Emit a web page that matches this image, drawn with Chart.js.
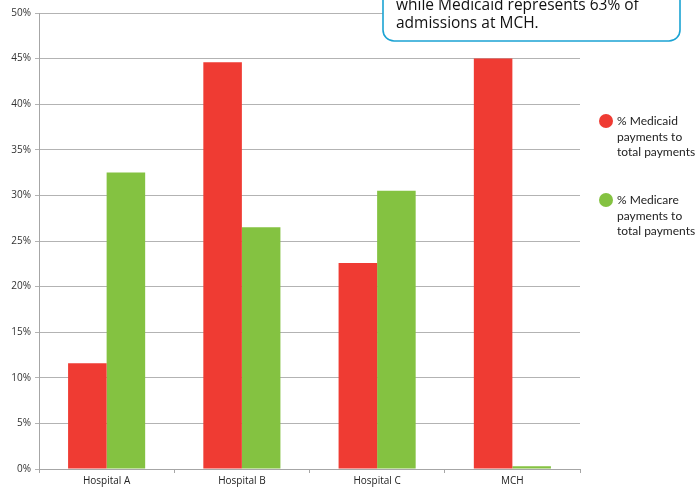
<!DOCTYPE html>
<html lang="en">
<head>
    <meta charset="UTF-8">
    <title>Medicaid / Medicare payments</title>
    <script src="https://cdn.jsdelivr.net/npm/chart.js"></script>
    <style>
        html, body { margin: 0; padding: 0; background: #fff; }
        #wrap { width: 696px; height: 489px; position: relative; }
    </style>
</head>
<body>
    <div id="wrap"><canvas id="grafico" width="696" height="489"></canvas></div>

    <script>
        // Data
        const hospitals = ['Hospital A', 'Hospital B', 'Hospital C', 'MCH'];
        const medicaidPct = [11.6, 44.6, 22.6, 45.0];   // % Medicaid payments to total payments
        const medicarePct = [32.5, 26.5, 30.5, 0.3];    // % Medicare payments to total payments
        const seriesNames = [
            ['% Medicaid', 'payments to', 'total payments'],
            ['% Medicare', 'payments to', 'total payments']
        ];
        const calloutLines = ['while Medicaid represents 63% of', 'admissions at MCH.'];

        const RED = '#ef3b33';
        const GREEN = '#84c241';

        // Legend on the right, drawn by hand (multi-line labels)
        const sideLegend = {
            id: 'sideLegend',
            afterDraw(chart) {
                const ctx = chart.ctx;
                ctx.save();
                ctx.font = '12px Lato, sans-serif';
                ctx.textBaseline = 'middle';
                chart.data.datasets.forEach((ds, i) => {
                    const y0 = 121 + i * 79;
                    ctx.beginPath();
                    ctx.arc(606, y0, 7, 0, Math.PI * 2);
                    ctx.fillStyle = ds.backgroundColor;
                    ctx.fill();
                    ctx.fillStyle = '#222';
                    ds.label.forEach((line, j) => {
                        ctx.fillText(line, 617, y0 + j * 15.7);
                    });
                });
                ctx.restore();
            }
        };

        // Callout box at the top (cut by the top edge)
        const callout = {
            id: 'callout',
            afterDraw(chart) {
                const ctx = chart.ctx;
                const x = 383, y = -40, w = 297, h = 81, r = 11;
                ctx.save();
                ctx.beginPath();
                ctx.roundRect(x, y, w, h, r);
                ctx.fillStyle = '#fff';
                ctx.fill();
                ctx.lineWidth = 1.6;
                ctx.strokeStyle = '#1ba3d3';
                ctx.stroke();
                ctx.fillStyle = '#111';
                ctx.font = '15.5px "Open Sans", sans-serif';
                ctx.textBaseline = 'alphabetic';
                calloutLines.forEach((line, j) => {
                    ctx.fillText(line, 396, 10 + j * 18);
                });
                ctx.restore();
            }
        };

        const ctx = document.getElementById('grafico').getContext('2d');
        new Chart(ctx, {
            type: 'bar',
            data: {
                labels: hospitals,
                datasets: [
                    { label: seriesNames[0], data: medicaidPct, backgroundColor: RED },
                    { label: seriesNames[1], data: medicarePct, backgroundColor: GREEN }
                ]
            },
            options: {
                responsive: false,
                animation: false,
                layout: { padding: { top: 13, right: 116, left: 0, bottom: 0 } },
                categoryPercentage: 0.57,
                barPercentage: 1.0,
                plugins: {
                    legend: { display: false },
                    tooltip: { enabled: false }
                },
                scales: {
                    x: {
                        afterFit(scale) { scale.height = 20; },
                        grid: { drawOnChartArea: false, drawTicks: true, tickLength: 4, color: '#a6a6a6', offset: true },
                        border: { color: '#a6a6a6' },
                        ticks: { color: '#222', padding: 2, font: { family: '"Open Sans", sans-serif', size: 10 } }
                    },
                    y: {
                        min: 0,
                        max: 50,
                        afterFit(scale) { scale.width = 39; },
                        grid: { color: '#b3b3b3', tickLength: 4 },
                        border: { color: '#a6a6a6' },
                        ticks: {
                            stepSize: 5,
                            padding: 4,
                            color: '#333',
                            font: { family: '"Open Sans", sans-serif', size: 10 },
                            callback: v => v + '%'
                        }
                    }
                }
            },
            plugins: [sideLegend, callout]
        });
    </script>
</body>
</html>
